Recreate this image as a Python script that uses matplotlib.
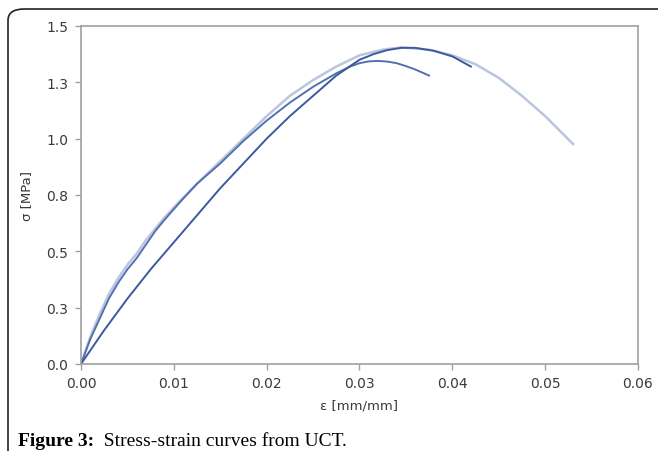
import matplotlib.pyplot as plt
from matplotlib.patches import FancyBboxPatch

# strain [mm/mm] and stress [MPa]
strain_a = [0, 0.001, 0.002, 0.003, 0.004, 0.005, 0.006, 0.007, 0.008, 0.009, 0.0107,
            0.0125, 0.015, 0.0175, 0.02, 0.0225, 0.025, 0.0275, 0.03, 0.0325, 0.0345,
            0.0375, 0.04, 0.0425, 0.045, 0.0475, 0.05, 0.053]
stress_a = [0, 0.12, 0.22, 0.31, 0.38, 0.44, 0.49, 0.55, 0.60, 0.65, 0.725,
            0.80, 0.90, 1.0, 1.10, 1.19, 1.26, 1.32, 1.37, 1.395, 1.405,
            1.395, 1.37, 1.33, 1.27, 1.19, 1.10, 0.976]

strain_b = [0, 0.001, 0.002, 0.003, 0.004, 0.005, 0.006, 0.007, 0.008, 0.009, 0.0107,
            0.0125, 0.015, 0.0175, 0.02, 0.0225, 0.025, 0.0275, 0.029, 0.03, 0.031,
            0.032, 0.033, 0.034, 0.035, 0.036, 0.0375]
stress_b = [0, 0.11, 0.20, 0.29, 0.36, 0.42, 0.47, 0.53, 0.59, 0.64, 0.72,
            0.80, 0.89, 0.99, 1.08, 1.16, 1.23, 1.29, 1.32, 1.335, 1.343,
            1.345, 1.342, 1.335, 1.322, 1.307, 1.28]

strain_c = [0, 0.0025, 0.005, 0.0075, 0.01, 0.0125, 0.015, 0.0175, 0.02, 0.0225, 0.025,
            0.0275, 0.03, 0.0315, 0.033, 0.0345, 0.036, 0.038, 0.04, 0.042]
stress_c = [0, 0.15, 0.29, 0.42, 0.54, 0.66, 0.78, 0.89, 1.0, 1.10, 1.19,
            1.28, 1.35, 1.375, 1.393, 1.403, 1.403, 1.39, 1.365, 1.32]

yticks = [0, 0.25, 0.5, 0.75, 1.0, 1.25, 1.5]
ytick_labels = ['0.0', '0.3', '0.5', '0.8', '1.0', '1.3', '1.5']
xticks = [0, 0.01, 0.02, 0.03, 0.04, 0.05, 0.06]

fig = plt.figure(figsize=(6.58, 4.52), dpi=100)
ax = fig.add_axes([0.1231, 0.1925, 0.8465, 0.7478])

ax.plot(strain_a, stress_a, color='#b3c0da', lw=1.8, alpha=0.9, solid_joinstyle='round')
ax.plot(strain_b, stress_b, color='#5470b0', lw=1.4, solid_joinstyle='round')
ax.plot(strain_c, stress_c, color='#3b5a9e', lw=1.4, solid_joinstyle='round')

ax.set_xlim(0, 0.06)
ax.set_ylim(0, 1.5)
ax.set_xticks(xticks)
ax.set_xticklabels([f'{v:.2f}' for v in xticks])
ax.set_yticks(yticks)
ax.set_yticklabels(ytick_labels)
ax.tick_params(direction='out', length=4, width=1, color='#a0a0a0',
               labelcolor='#3a3a3a', labelsize=10, pad=5)
for s in ax.spines.values():
    s.set_color('#a0a0a0')
    s.set_linewidth(1.2)

ax.set_xlabel('ε [mm/mm]', fontsize=9.5, color='#3a3a3a', labelpad=6)
ax.set_ylabel('σ [MPa]', fontsize=9.5, color='#3a3a3a', labelpad=10)

# outer frame with a rounded top-left corner
frame = FancyBboxPatch((8 / 658, -0.2), 1.2, 1.2 - 10 / 452,
                       boxstyle='round,pad=0,rounding_size=0.025',
                       transform=fig.transFigure, fill=False,
                       edgecolor='#222222', lw=1.2, clip_on=False)
fig.patches.append(frame)

t1 = fig.text(18 / 658, 1 - 446 / 452, 'Figure 3:', fontfamily='Liberation Serif',
              fontweight='bold', fontsize=14, va='baseline')
fig.add_artist(plt.Annotation('  Stress-strain curves from UCT.', xy=(1, 0), xycoords=t1,
                              va='bottom', ha='left', fontfamily='Liberation Serif',
                              fontsize=14))

fig.savefig('out.png', dpi=100)
